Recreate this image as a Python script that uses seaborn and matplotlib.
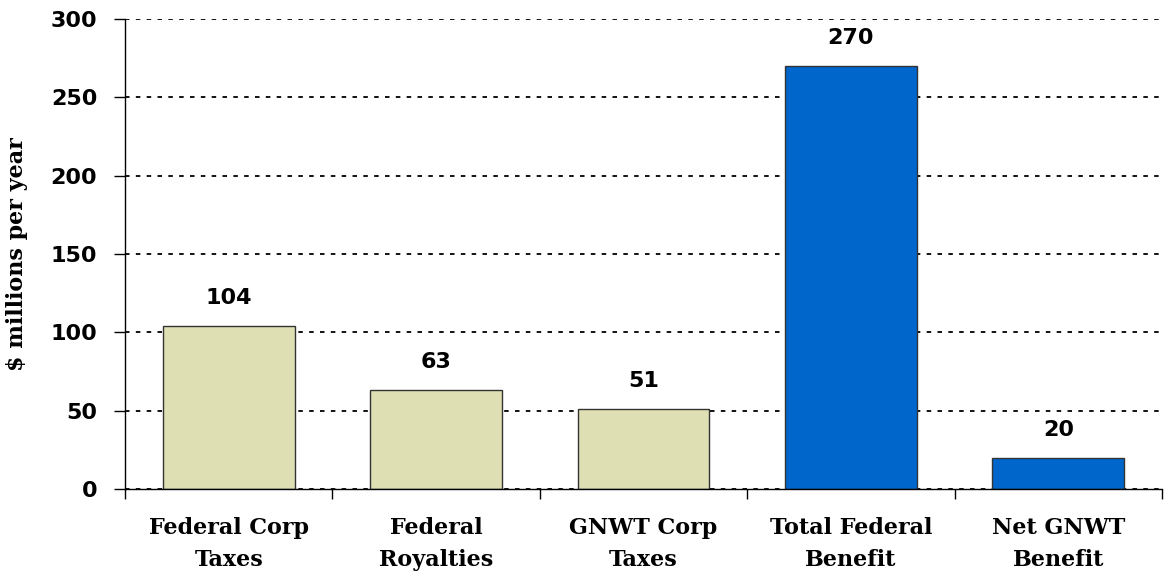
import matplotlib
matplotlib.use("Agg")
import matplotlib.pyplot as plt
import seaborn as sns
import pandas as pd
from matplotlib.ticker import FixedLocator

categories = ["Federal Corp\nTaxes", "Federal\nRoyalties", "GNWT Corp\nTaxes",
              "Total Federal\nBenefit", "Net GNWT\nBenefit"]
values = [104, 63, 51, 270, 20]
bar_colors = ["#DFDFB4", "#DFDFB4", "#DFDFB4", "#0066CC", "#0066CC"]
y_ticks = [0, 50, 100, 150, 200, 250, 300]

sns.set_theme(style="white")
plt.rcParams["font.family"] = ["DejaVu Sans"]
plt.rcParams["text.color"] = "black"
plt.rcParams["xtick.color"] = "black"
plt.rcParams["ytick.color"] = "black"
plt.rcParams["axes.labelcolor"] = "black"

df = pd.DataFrame({"cat": categories, "val": values})

fig = plt.figure(figsize=(11.65, 5.73), dpi=100)
ax = fig.add_axes([125/1165, 1-489/573, 1-125/1165-3/1165, (489-19)/573])

sns.barplot(data=df, x="cat", y="val", hue="cat", palette=bar_colors,
            legend=False, width=0.635, edgecolor="#333333", linewidth=1.0,
            ax=ax, saturation=1)

ax.set_ylim(0, 300)
ax.set_xlim(-0.5, 4.5)
ax.set_yticks(y_ticks)
ax.set_yticklabels([str(t) for t in y_ticks], fontsize=16, fontweight="bold",
                   family="DejaVu Sans", color="black")
ax.yaxis.grid(True, linestyle=(0, (2.5, 3.5)), color="black", linewidth=1.3)
ax.set_axisbelow(True)

for s in ["top", "right"]:
    ax.spines[s].set_visible(False)
for s in ["left", "bottom"]:
    ax.spines[s].set_color("black")
    ax.spines[s].set_linewidth(1.0)

ax.tick_params(axis="y", which="major", length=8, width=1, color="black",
               left=True, pad=12)
ax.tick_params(axis="x", which="major", length=0, pad=20)
ax.xaxis.set_minor_locator(FixedLocator([-0.5, 0.5, 1.5, 2.5, 3.5, 4.5]))
ax.tick_params(axis="x", which="minor", length=7, width=1, color="black",
               bottom=True)
ax.set_xticks(range(len(categories)))
ax.set_xticklabels(categories, fontsize=16, fontweight="bold",
                   family="DejaVu Serif", linespacing=1.6, color="black")

ax.set_xlabel("")
ax.set_ylabel("$ millions per year", fontsize=16, fontweight="bold",
              family="DejaVu Serif", labelpad=16, color="black")

for i, v in enumerate(values):
    ax.annotate(str(v), (i, v), xytext=(0, 13), textcoords="offset points",
                ha="center", va="bottom", fontsize=16, fontweight="bold",
                family="DejaVu Sans", color="black")

fig.savefig("out.png", dpi=100)
